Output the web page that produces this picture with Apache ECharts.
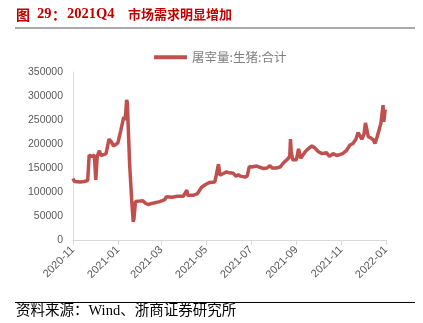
<!DOCTYPE html>
<html><head><meta charset="utf-8">
<script src="https://cdn.jsdelivr.net/npm/echarts@6/dist/echarts.min.js"></script>
<style>html,body{margin:0;padding:0;background:#fff}#c{width:423px;height:323px}</style>
</head><body><div id="c"></div>
<script>
var titleParts = ['图', '29', '：', '2021Q4', '市场需求明显增加'];
var footerText = '资料来源：Wind、浙商证券研究所';
var seriesName = '屠宰量:生猪:合计';
var dates = ['2020-11-01','2020-11-03','2020-11-05','2020-11-11','2020-11-16','2020-11-21','2020-11-22','2020-11-23','2020-11-27','2020-11-30',
'2020-12-02','2020-12-04','2020-12-07','2020-12-09','2020-12-16','2020-12-20','2020-12-23','2020-12-26','2020-12-28','2021-01-01',
'2021-01-03','2021-01-05','2021-01-07','2021-01-09','2021-01-11','2021-01-13','2021-01-14','2021-01-17','2021-01-20','2021-01-22',
'2021-01-23','2021-01-25','2021-01-30','2021-02-04','2021-02-08','2021-02-11','2021-02-16','2021-02-27','2021-03-06','2021-03-08',
'2021-03-10','2021-03-16','2021-03-23','2021-03-31','2021-04-05','2021-04-06','2021-04-13','2021-04-19','2021-04-25','2021-05-01',
'2021-05-06','2021-05-13','2021-05-15','2021-05-18','2021-05-20','2021-05-24','2021-05-29','2021-06-02','2021-06-07','2021-06-11',
'2021-06-14','2021-06-17','2021-06-23','2021-06-26','2021-06-29','2021-07-02','2021-07-09','2021-07-18','2021-07-23','2021-07-27',
'2021-07-30','2021-08-05','2021-08-10','2021-08-14','2021-08-21','2021-08-23','2021-08-24','2021-08-25','2021-08-27','2021-09-01',
'2021-09-04','2021-09-07','2021-09-13','2021-09-17','2021-09-22','2021-09-26','2021-10-01','2021-10-06','2021-10-12','2021-10-16',
'2021-10-21','2021-10-26','2021-10-30','2021-11-03','2021-11-08','2021-11-13','2021-11-17','2021-11-21','2021-11-24','2021-11-29',
'2021-12-02','2021-12-04','2021-12-08','2021-12-12','2021-12-15','2021-12-17','2021-12-20','2021-12-22','2021-12-25','2021-12-28',
'2021-12-29','2021-12-31'];
var values = [128000,122000,118000,121000,122000,124000,150000,177000,174000,177000,
125000,175000,186000,176000,180000,210000,205000,196000,194000,202000,
198000,228000,232000,256000,250000,292000,285000,160000,80000,38000,
45000,80000,81000,82000,76000,74000,76000,80000,84000,90000,
86000,89000,91000,91000,104000,93000,93000,96000,110000,116000,
120000,121000,135000,158000,135000,138000,142000,140000,139000,133000,
136000,133000,131000,133000,153000,152000,154000,149000,150000,155000,
150000,150000,152000,160000,170000,175000,210000,185000,167000,167000,
190000,170000,184000,190000,196000,192000,184000,180000,182000,174000,
180000,176000,178000,180000,186000,198000,201000,210000,224000,210000,
220000,244000,215000,212000,208000,201000,215000,226000,243000,281000,
246000,272000];
var tickMonths = ['2020-11','2021-01','2021-03','2021-05','2021-07','2021-09','2021-11','2022-01'];
var yTicks = [0,50000,100000,150000,200000,250000,300000,350000];

function ts(s){var p=s.split('-');return Date.UTC(+p[0],+p[1]-1,p[2]?+p[2]:1);}
var tickTs = tickMonths.map(function(m){return ts(m);});
var data = dates.map(function(d,i){return [ts(d), values[i]];});
function pad(n){return n<10?'0'+n:''+n;}

var serif = 'Liberation Serif, Noto Sans CJK SC';
var red = '#c00000';
var chart = echarts.init(document.getElementById('c'), null, {renderer:'canvas'});
chart.setOption({
  animation:false,
  backgroundColor:'#fff',
  grid:{left:73,right:37,top:72,bottom:83,containLabel:false},
  legend:{top:46,left:149,data:[{name:seriesName,icon:'rect'}],itemWidth:33,itemHeight:4,itemGap:3,
    textStyle:{color:'#7f7f7f',fontSize:12.5,fontFamily:'Noto Sans CJK SC'}},
  xAxis:{type:'value',min:tickTs[0],max:tickTs[tickTs.length-1],scale:true,
    axisLine:{show:true,lineStyle:{color:'#d9d9d9',width:1}},
    axisTick:{show:true,length:5,customValues:tickTs,lineStyle:{color:'#d9d9d9'}},
    splitLine:{show:false},
    axisLabel:{customValues:tickTs,rotate:45,margin:8,fontSize:11,color:'#595959',fontFamily:'Liberation Sans',
      formatter:function(v){var d=new Date(v);return d.getUTCFullYear()+'-'+pad(d.getUTCMonth()+1);}}
  },
  yAxis:{type:'value',min:yTicks[0],max:yTicks[yTicks.length-1],interval:50000,
    axisLine:{show:true,lineStyle:{color:'#d9d9d9'}},axisTick:{show:false},splitLine:{show:false},
    axisLabel:{fontSize:10.5,color:'#595959',margin:10,fontFamily:'Liberation Sans',formatter:function(v){return String(v);}}},
  series:[{name:seriesName,type:'line',data:data,showSymbol:false,symbol:'none',
    lineStyle:{color:'#c0504d',width:3.5},itemStyle:{color:'#c0504d'}}],
  graphic:[
    {type:'text',left:16,top:8,style:{text:titleParts[0],fill:red,fontSize:14,fontWeight:'bold',fontFamily:'Noto Sans CJK SC'}},
    {type:'text',left:37,top:7,style:{text:titleParts[1],fill:red,fontSize:14.5,fontWeight:'bold',fontFamily:'Liberation Serif'}},
    {type:'text',left:52,top:8,style:{text:titleParts[2],fill:red,fontSize:14,fontWeight:'bold',fontFamily:'Noto Sans CJK SC'}},
    {type:'text',left:67,top:7,style:{text:titleParts[3],fill:red,fontSize:14.5,fontWeight:'bold',fontFamily:'Liberation Serif'}},
    {type:'text',left:128,top:8,style:{text:titleParts[4],fill:red,fontSize:13,fontWeight:'bold',fontFamily:'Noto Sans CJK SC'}},
    {type:'line',shape:{x1:15,y1:28,x2:415,y2:28},style:{stroke:'#555',lineWidth:1}},
    {type:'line',shape:{x1:15,y1:302.5,x2:415,y2:302.5},style:{stroke:'#000',lineWidth:1}},
    {type:'text',left:16,top:304,style:{text:footerText,fill:'#000',fontSize:14.5,fontFamily:serif}}
  ]
});
</script></body></html>
